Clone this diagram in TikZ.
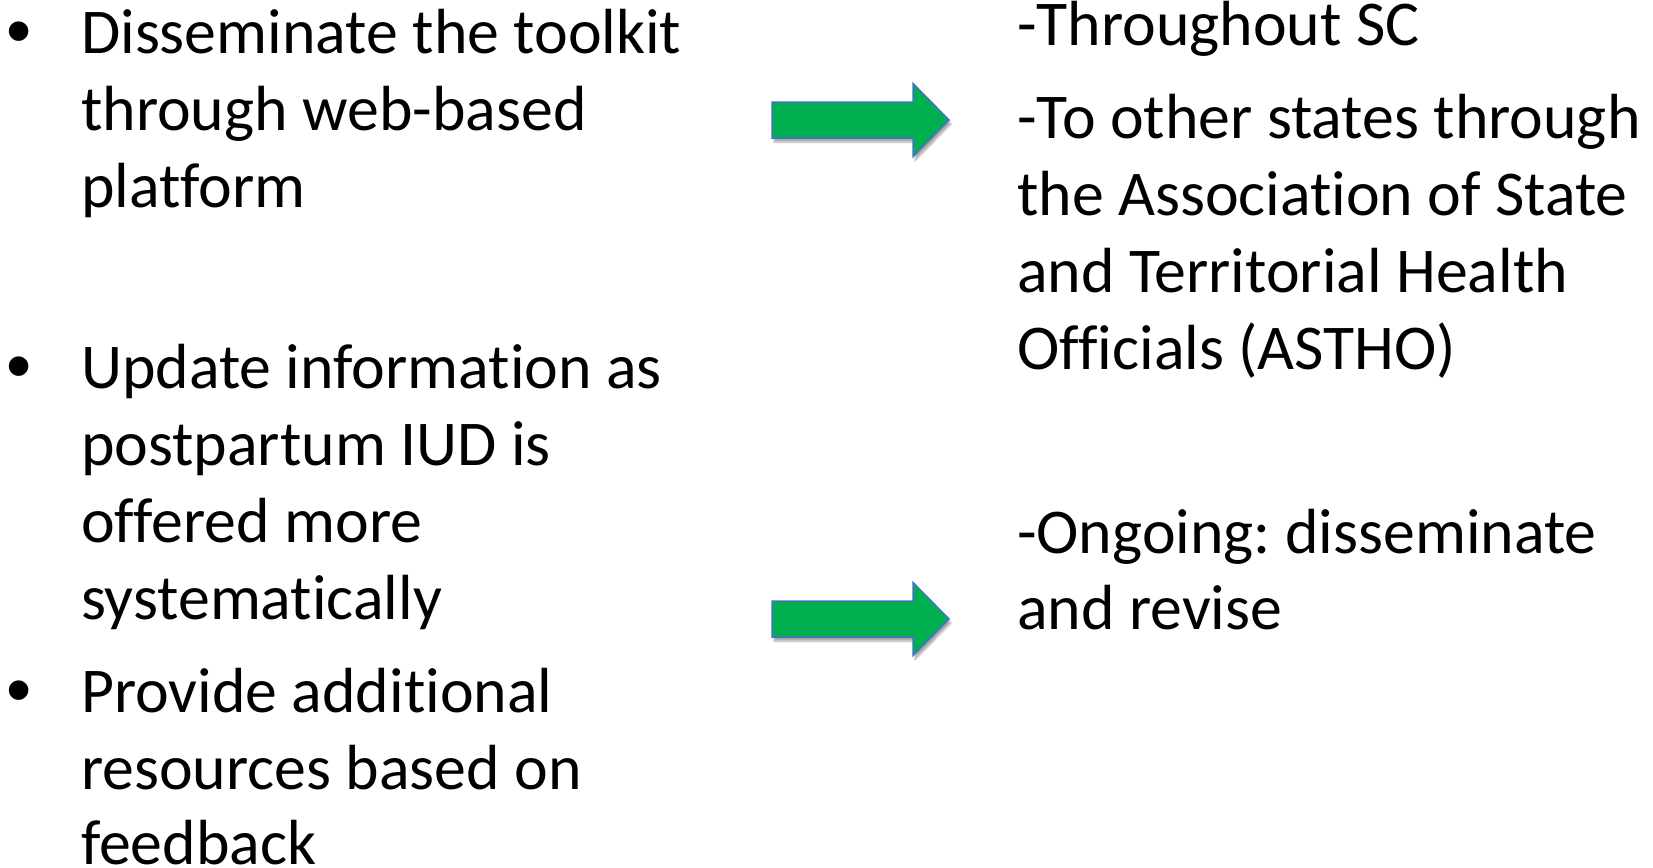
\documentclass[tikz,border=0pt]{standalone}
\usepackage{fontspec}
\setmainfont{Carlito}[Ligatures={NoCommon,NoRequired,NoContextual}]
\newfontfamily\bulletfont{Liberation Sans}
\usetikzlibrary{shadows.blur}
\frenchspacing
\definecolor{arrowgreen}{HTML}{00B050}
\definecolor{arrowline}{HTML}{4472C4}
\tikzset{
  txt/.style={anchor=base west, inner sep=0pt, font=\fontsize{63.8}{77}\selectfont, text=black},
  bul/.style={anchor=center, inner sep=0pt, font=\bulletfont\fontsize{72}{80}\selectfont, text=black},
  greenarrow/.style={fill=arrowgreen, draw=arrowline, line width=1.5pt, line join=miter,
    blur shadow={shadow xshift=2pt, shadow yshift=-4pt, shadow blur steps=6, shadow opacity=35}}
}
\newcommand\grarrow[2]{% #1 = name, #2 = y of centre line
  \coordinate (#1-tail) at (772,#2);
  \coordinate (#1-tip) at (949,#2);
  \path[greenarrow] (772,#2-18) -- (913,#2-18) -- (913,#2-36.5) -- (#1-tip) -- (913,#2+36.5)
     -- (913,#2+18) -- (772,#2+18) -- cycle;
}
\begin{document}
\begin{tikzpicture}[x=1pt,y=-1pt]
\useasboundingbox (0,0) rectangle (1653,867);
% left column
\node[bul] (b1) at (19.5,39) {•};
\node[txt] (l1) at (81,53) {Disseminate the toolkit};
\node[txt] (l2) at (81,130) {through web-based};
\node[txt] (l3) at (81,207) {platform};
\node[bul] (b2) at (19.5,374) {•};
\node[txt] (l4) at (81,388) {Update information as};
\node[txt] (l5) at (81,465) {postpartum IUD is};
\node[txt] (l6) at (81,542) {offered more};
\node[txt] (l7) at (81,619) {systematically};
\node[bul] (b3) at (19.5,698) {•};
\node[txt] (l8) at (81,712) {Provide additional};
\node[txt] (l9) at (81,789) {resources based on};
\node[txt] (l10) at (81,864) {feedback};
% arrows
\grarrow{a1}{120}
\grarrow{a2}{619}
% right column
\node[txt] (r1) at (1017,46) {-Throughout SC};
\node[txt] (r2) at (1017,138) {-To other states through};
\node[txt] (r3) at (1017,215) {the Association of State};
\node[txt] (r4) at (1017,292) {and Territorial Health};
\node[txt] (r5) at (1017,369) {Officials (ASTHO)};
\node[txt] (r6) at (1017,553) {-Ongoing: disseminate};
\node[txt] (r7) at (1017,629) {and revise};
\end{tikzpicture}
\end{document}
